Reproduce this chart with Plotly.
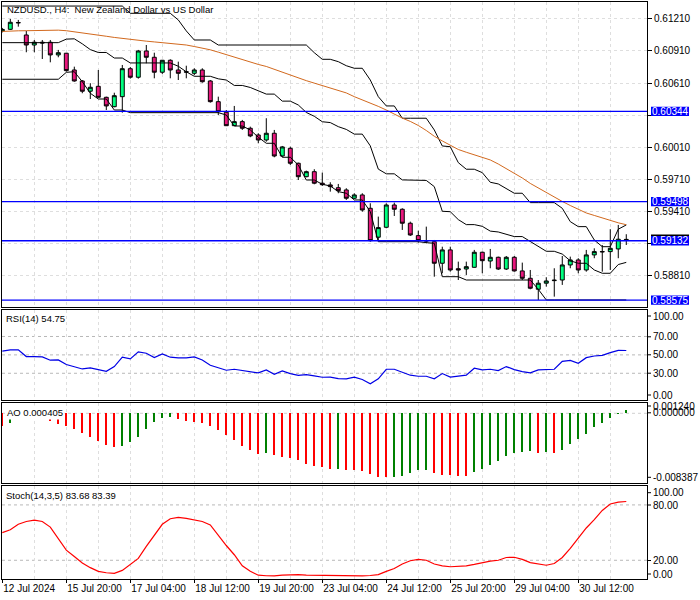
import plotly.graph_objects as go

# ---------------- data ----------------
bar_index = list(range(79))
date_tick_bars = [0, 8, 16, 24, 32, 40, 48, 56, 64, 72]
date_tick_labels = ["12 Jul 2024", "15 Jul 20:00", "17 Jul 04:00", "18 Jul 12:00", "19 Jul 20:00",
                    "23 Jul 04:00", "24 Jul 12:00", "25 Jul 20:00", "29 Jul 04:00", "30 Jul 12:00"]
price_ticks = [0.61210, 0.60910, 0.60610, 0.60310, 0.60010, 0.59710, 0.59410, 0.59110, 0.58810]
level_prices = [0.60344, 0.59498, 0.59132, 0.58575]
bid_price = 0.59144

open_ = [0.61098, 0.61113, 0.61177, 0.61060, 0.60966, 0.60992, 0.60992, 0.60873, 0.60889, 0.60732,
         0.60629, 0.60533, 0.60579, 0.60476, 0.60388, 0.60482, 0.60744, 0.60664, 0.60910, 0.60851,
         0.60711, 0.60823, 0.60732, 0.60716, 0.60701, 0.60732, 0.60629, 0.60435, 0.60336, 0.60210,
         0.60248, 0.60186, 0.60123, 0.60076, 0.60139, 0.59926, 0.59998, 0.59858, 0.59732, 0.59779,
         0.59671, 0.59655, 0.59629, 0.59608, 0.59530, 0.59561, 0.59436, 0.59165, 0.59258, 0.59467,
         0.59427, 0.59296, 0.59180, 0.59133, 0.59123, 0.58921, 0.59046, 0.58870, 0.58867, 0.58883,
         0.59024, 0.58942, 0.58977, 0.58867, 0.58977, 0.58849, 0.58780, 0.58677, 0.58734, 0.58758,
         0.58764, 0.58905, 0.58952, 0.58858, 0.58999, 0.59031, 0.59030, 0.59055, 0.59141]
high = [0.61126, 0.61210, 0.61201, 0.61098, 0.61013, 0.61013, 0.61013, 0.60920, 0.60891, 0.60763,
        0.60638, 0.60608, 0.60732, 0.60482, 0.60519, 0.60779, 0.60760, 0.60920, 0.60966, 0.60894,
        0.60826, 0.60832, 0.60810, 0.60772, 0.60748, 0.60748, 0.60638, 0.60482, 0.60357, 0.60395,
        0.60264, 0.60201, 0.60139, 0.60280, 0.60170, 0.60020, 0.60013, 0.59864, 0.59789, 0.59802,
        0.59770, 0.59680, 0.59664, 0.59624, 0.59577, 0.59577, 0.59483, 0.59358, 0.59483, 0.59489,
        0.59436, 0.59311, 0.59226, 0.59264, 0.59139, 0.59076, 0.59076, 0.58936, 0.58936, 0.59046,
        0.59030, 0.59055, 0.58983, 0.58989, 0.58989, 0.58927, 0.58858, 0.58764, 0.58790, 0.58874,
        0.58989, 0.58983, 0.58968, 0.59046, 0.59061, 0.59092, 0.59240, 0.59280, 0.59193]
low = [0.61084, 0.61107, 0.61138, 0.60898, 0.60898, 0.60835, 0.60804, 0.60851, 0.60716, 0.60622,
       0.60514, 0.60460, 0.60473, 0.60357, 0.60383, 0.60332, 0.60651, 0.60651, 0.60795, 0.60654,
       0.60695, 0.60654, 0.60638, 0.60654, 0.60685, 0.60613, 0.60426, 0.60310, 0.60207, 0.60207,
       0.60170, 0.60102, 0.60045, 0.60060, 0.59914, 0.59917, 0.59842, 0.59701, 0.59727, 0.59661,
       0.59645, 0.59592, 0.59577, 0.59514, 0.59523, 0.59404, 0.59123, 0.59133, 0.59249, 0.59364,
       0.59233, 0.59177, 0.59114, 0.59108, 0.58795, 0.58827, 0.58842, 0.58764, 0.58811, 0.58880,
       0.58827, 0.58874, 0.58858, 0.58858, 0.58842, 0.58764, 0.58677, 0.58577, 0.58702, 0.58608,
       0.58718, 0.58874, 0.58827, 0.58842, 0.58968, 0.58842, 0.58858, 0.58968, 0.59092]
close = [0.61112, 0.61179, 0.61174, 0.60966, 0.60992, 0.60985, 0.60873, 0.60894, 0.60726, 0.60629,
         0.60533, 0.60570, 0.60476, 0.60395, 0.60491, 0.60744, 0.60664, 0.60910, 0.60851, 0.60711,
         0.60823, 0.60732, 0.60701, 0.60712, 0.60732, 0.60622, 0.60435, 0.60341, 0.60210, 0.60248,
         0.60186, 0.60114, 0.60076, 0.60139, 0.59926, 0.60011, 0.59858, 0.59732, 0.59779, 0.59671,
         0.59657, 0.59639, 0.59601, 0.59530, 0.59561, 0.59420, 0.59133, 0.59255, 0.59467, 0.59427,
         0.59296, 0.59186, 0.59133, 0.59130, 0.58921, 0.59046, 0.58858, 0.58858, 0.58889, 0.59024,
         0.58945, 0.58977, 0.58867, 0.58977, 0.58849, 0.58780, 0.58687, 0.58734, 0.58755, 0.58762,
         0.58905, 0.58952, 0.58858, 0.58999, 0.59030, 0.59028, 0.59061, 0.59146, 0.59144]

channel_upper = [0.61331, 0.61331, 0.61331, 0.61331, 0.61331, 0.61331, 0.61331, 0.61331, 0.61331, 0.61331,
                 0.61331, 0.61331, 0.61331, 0.61331, 0.61331, 0.61331, 0.61263, 0.61263, 0.61263, 0.61263,
                 0.61263, 0.61263, 0.61201, 0.61098, 0.61013, 0.61013, 0.61013, 0.60966, 0.60966, 0.60966,
                 0.60966, 0.60966, 0.60966, 0.60966, 0.60966, 0.60966, 0.60966, 0.60966, 0.60966, 0.60894,
                 0.60832, 0.60832, 0.60810, 0.60772, 0.60748, 0.60748, 0.60638, 0.60482, 0.60395, 0.60395,
                 0.60280, 0.60280, 0.60280, 0.60280, 0.60170, 0.60020, 0.60013, 0.59864, 0.59802, 0.59802,
                 0.59770, 0.59680, 0.59664, 0.59624, 0.59577, 0.59577, 0.59489, 0.59489, 0.59489, 0.59489,
                 0.59436, 0.59311, 0.59264, 0.59264, 0.59139, 0.59076, 0.59076, 0.59240, 0.59280]
channel_middle = [0.60988, 0.60988, 0.60988, 0.60988, 0.60988, 0.60988, 0.60988, 0.60988, 0.61021, 0.61024,
                  0.60977, 0.60923, 0.60896, 0.60896, 0.60844, 0.60844, 0.60798, 0.60798, 0.60798, 0.60798,
                  0.60798, 0.60798, 0.60767, 0.60715, 0.60673, 0.60673, 0.60673, 0.60649, 0.60638, 0.60587,
                  0.60587, 0.60568, 0.60534, 0.60506, 0.60506, 0.60440, 0.60440, 0.60404, 0.60334, 0.60298,
                  0.60247, 0.60239, 0.60201, 0.60175, 0.60131, 0.60131, 0.60021, 0.59803, 0.59759, 0.59759,
                  0.59702, 0.59702, 0.59702, 0.59697, 0.59639, 0.59408, 0.59404, 0.59330, 0.59283, 0.59283,
                  0.59267, 0.59222, 0.59214, 0.59194, 0.59171, 0.59171, 0.59127, 0.59083, 0.59033, 0.59033,
                  0.59007, 0.58944, 0.58921, 0.58921, 0.58858, 0.58827, 0.58827, 0.58909, 0.58929]
channel_lower = [0.60645, 0.60645, 0.60645, 0.60645, 0.60645, 0.60645, 0.60645, 0.60645, 0.60710, 0.60716,
                 0.60622, 0.60514, 0.60460, 0.60460, 0.60357, 0.60357, 0.60332, 0.60332, 0.60332, 0.60332,
                 0.60332, 0.60332, 0.60332, 0.60332, 0.60332, 0.60332, 0.60332, 0.60332, 0.60310, 0.60207,
                 0.60207, 0.60170, 0.60102, 0.60045, 0.60045, 0.59914, 0.59914, 0.59842, 0.59701, 0.59701,
                 0.59661, 0.59645, 0.59592, 0.59577, 0.59514, 0.59514, 0.59404, 0.59123, 0.59123, 0.59123,
                 0.59123, 0.59123, 0.59123, 0.59114, 0.59108, 0.58795, 0.58795, 0.58795, 0.58764, 0.58764,
                 0.58764, 0.58764, 0.58764, 0.58764, 0.58764, 0.58764, 0.58764, 0.58677, 0.58577, 0.58577,
                 0.58577, 0.58577, 0.58577, 0.58577, 0.58577, 0.58577, 0.58577, 0.58577, 0.58577]
moving_average = [0.61093, 0.61098, 0.61099, 0.61100, 0.61103, 0.61105, 0.61107, 0.61105, 0.61100, 0.61091,
                  0.61081, 0.61069, 0.61058, 0.61048, 0.61037, 0.61027, 0.61020, 0.61011, 0.61002, 0.60995,
                  0.60989, 0.60981, 0.60975, 0.60966, 0.60952, 0.60938, 0.60921, 0.60899, 0.60875, 0.60850,
                  0.60826, 0.60804, 0.60784, 0.60765, 0.60737, 0.60710, 0.60682, 0.60654, 0.60632, 0.60609,
                  0.60587, 0.60565, 0.60545, 0.60517, 0.60482, 0.60453, 0.60424, 0.60391, 0.60357, 0.60315,
                  0.60281, 0.60250, 0.60212, 0.60165, 0.60111, 0.60067, 0.60027, 0.59987, 0.59961, 0.59936,
                  0.59912, 0.59889, 0.59851, 0.59809, 0.59767, 0.59720, 0.59669, 0.59625, 0.59582, 0.59540,
                  0.59500, 0.59462, 0.59427, 0.59392, 0.59369, 0.59345, 0.59324, 0.59300, 0.59282]

rsi = [54.0, 55.5, 55.5, 48.2, 48.2, 47.8, 44.2, 44.5, 39.5, 37.3,
       34.7, 35.8, 34.4, 32.2, 37.3, 47.5, 45.6, 53.3, 51.8, 47.1,
       51.1, 47.5, 46.7, 46.7, 47.8, 44.5, 38.7, 36.2, 33.3, 34.4,
       32.9, 32.2, 30.4, 33.6, 28.9, 32.5, 29.6, 27.8, 28.5, 27.1,
       25.7, 25.8, 24.3, 24.0, 25.8, 23.2, 18.6, 24.0, 34.4, 34.4,
       31.5, 27.9, 26.8, 26.8, 24.0, 29.7, 25.8, 26.8, 27.9, 35.5,
       33.7, 34.4, 32.9, 37.3, 34.0, 31.9, 30.4, 33.7, 34.4, 34.4,
       43.0, 44.1, 40.9, 47.0, 48.8, 49.5, 52.4, 54.9, 54.75]

ao = [-0.00160, -0.00122, -0.00057, -0.00030, -0.00020, -0.00030, -0.00096, -0.00140, -0.00162, -0.00205,
      -0.00253, -0.00306, -0.00358, -0.00411, -0.00437, -0.00424, -0.00371, -0.00306, -0.00201, -0.00109,
      -0.00057, -0.00050, -0.00070, -0.00096, -0.00109, -0.00127, -0.00162, -0.00214, -0.00280, -0.00345,
      -0.00424, -0.00476, -0.00529, -0.00526, -0.00546, -0.00568, -0.00585, -0.00612, -0.00660, -0.00686,
      -0.00701, -0.00730, -0.00727, -0.00738, -0.00743, -0.00751, -0.00791, -0.00830, -0.00839, -0.00830,
      -0.00817, -0.00778, -0.00743, -0.00740, -0.00778, -0.00804, -0.00805, -0.00817, -0.00818, -0.00764,
      -0.00725, -0.00673, -0.00620, -0.00555, -0.00524, -0.00502, -0.00500, -0.00515, -0.00502, -0.00515,
      -0.00476, -0.00406, -0.00332, -0.00266, -0.00175, -0.00122, -0.00066, -0.00003, 0.000405]

stoch = [50.0, 53.0, 59.0, 62.0, 63.5, 62.0, 56.0, 44.0, 31.0, 24.0,
         17.0, 12.0, 8.0, 6.5, 5.9, 9.0, 15.0, 22.0, 35.0, 47.0,
         59.0, 65.0, 66.5, 65.5, 63.5, 62.0, 58.3, 47.0, 36.0, 26.0,
         14.0, 8.0, 3.8, 3.2, 3.0, 4.0, 4.6, 4.5, 4.0, 3.8,
         3.5, 3.3, 3.1, 3.1, 3.1, 3.1, 3.5, 4.5, 8.0, 11.0,
         16.0, 19.5, 21.0, 20.0, 16.0, 14.0, 13.0, 13.3, 14.0, 15.5,
         17.5, 19.0, 20.0, 23.0, 23.3, 21.0, 17.5, 16.0, 14.6, 16.5,
         23.0, 33.0, 44.0, 55.0, 64.0, 74.0, 81.0, 83.0, 83.68]

rsi_labels = [(100, "100.00"), (70, "70.00"), (50, "50.00"), (30, "30.00"), (0, "0.00")]
rsi_levels = [30, 50, 70]
ao_labels = [(0.001240, "0.001240"), (0.0, "0.000000"), (-0.008387, "-0.008387")]
stoch_labels = [(100, "100.00"), (80, "80.00"), (20, "20.00"), (0, "0.00")]
stoch_levels = [20, 80]

# ---------------- geometry / style ----------------
W, H = 700, 600
ML, MR, MT, MB = 2, 53, 2, 21
PW = W - ML - MR
PH = H - MT - MB
def py(px):
    return (H - MB - px) / PH
def pxx(px):
    return (px - ML) / PW

FONT = "Liberation Sans, Arial, sans-serif"
BULL = "#00FF7F"
BEAR = "#E8177D"
GRID = "#DEDEDE"
LEVEL = "#B8B8B8"
PRICE_PER_PX = (0.61369 - 0.58511) / 305.0

fig = go.Figure()

fig.add_trace(go.Candlestick(
    x=bar_index, open=open_, high=high, low=low, close=close,
    increasing=dict(fillcolor=BULL, line=dict(color="black", width=1)),
    decreasing=dict(fillcolor=BEAR, line=dict(color="black", width=1)),
    whiskerwidth=0, xaxis="x", yaxis="y", showlegend=False, hoverinfo="skip"))
for series in (channel_upper, channel_middle, channel_lower):
    fig.add_trace(go.Scatter(x=bar_index, y=series, mode="lines", line=dict(color="black", width=1),
                             xaxis="x", yaxis="y", showlegend=False, hoverinfo="skip"))
fig.add_trace(go.Scatter(x=bar_index, y=moving_average, mode="lines", line=dict(color="#D2691E", width=1),
                         xaxis="x", yaxis="y", showlegend=False, hoverinfo="skip"))

fig.add_trace(go.Scatter(x=bar_index, y=rsi, mode="lines", line=dict(color="#0000E6", width=1.2),
                         xaxis="x2", yaxis="y2", showlegend=False, hoverinfo="skip"))

ao_colors = ["#008000" if i > 0 and ao[i] > ao[i - 1] else "#FF0000" for i in range(len(ao))]
fig.add_trace(go.Bar(x=bar_index, y=ao, marker=dict(color=ao_colors, line=dict(width=0)), width=0.24,
                     xaxis="x3", yaxis="y3", showlegend=False, hoverinfo="skip"))

fig.add_trace(go.Scatter(x=bar_index, y=stoch, mode="lines", line=dict(color="#FF0000", width=1.2),
                         xaxis="x4", yaxis="y4", showlegend=False, hoverinfo="skip"))

xr = [-0.0375, 80.59]
minor_vals = list(range(4, 81, 8))
xcommon = dict(range=xr, showline=True, mirror=True, linecolor="black", linewidth=1,
               showgrid=True, gridcolor=GRID, griddash="3px,3px", gridwidth=1,
               tickmode="array", tickvals=date_tick_bars, zeroline=False, fixedrange=True,
               automargin=False,
               minor=dict(tickmode="array", tickvals=minor_vals, showgrid=True, gridcolor=GRID,
                          griddash="3px,3px", gridwidth=1, ticks=""))
ycommon = dict(side="right", showline=True, mirror=True, linecolor="black", linewidth=1,
               zeroline=False, fixedrange=True, automargin=False)

layout = dict(
    width=W, height=H, margin=dict(l=ML, r=MR, t=MT, b=MB, pad=0), autosize=False,
    paper_bgcolor="white", plot_bgcolor="white",
    font=dict(family=FONT, size=10, color="black"),
    showlegend=False, bargap=0,
    xaxis=dict(**xcommon, anchor="y", domain=[0, 1], showticklabels=False, ticks="",
               rangeslider=dict(visible=False)),
    xaxis2=dict(**xcommon, anchor="y2", matches="x", showticklabels=False, ticks=""),
    xaxis3=dict(**xcommon, anchor="y3", matches="x", showticklabels=False, ticks=""),
    xaxis4=dict(**xcommon, anchor="y4", matches="x", ticktext=date_tick_labels, showticklabels=True,
                ticks="outside", ticklen=3, tickcolor="black", ticklabelposition="outside right"),
    yaxis=dict(**ycommon, domain=[py(307), 1.0], range=[0.58511, 0.61369],
               tickmode="array", tickvals=price_ticks,
               ticktext=["%.5f" % v if v not in (0.60310, 0.59110) else "" for v in price_ticks],
               ticks="outside", ticklen=4, tickcolor="black",
               showgrid=True, gridcolor=GRID, griddash="3px,3px"),
    yaxis2=dict(**ycommon, domain=[py(399.5), py(310)], range=[1.5, 98.8], showticklabels=False,
                ticks="", showgrid=False),
    yaxis3=dict(**ycommon, domain=[py(483.3), py(402.7)], range=[-0.009173, 0.001389],
                showticklabels=False, ticks="", showgrid=False),
    yaxis4=dict(**ycommon, domain=[0, py(486)], range=[-0.3, 100.5], showticklabels=False,
                ticks="", showgrid=False),
)
fig.update_layout(**layout)

shapes = []
annotations = []
for lv in level_prices:
    shapes.append(dict(type="line", xref="x domain", x0=0, x1=1, yref="y", y0=lv, y1=lv,
                       line=dict(color="#0000FF", width=1.3), layer="above"))
for lv in rsi_levels:
    shapes.append(dict(type="line", xref="x2 domain", x0=0, x1=1, yref="y2", y0=lv, y1=lv,
                       line=dict(color=LEVEL, width=1, dash="3px,3px"), layer="below"))
shapes.append(dict(type="line", xref="x3 domain", x0=0, x1=1, yref="y3", y0=0, y1=0,
                   line=dict(color="#D0D0D0", width=1, dash="3px,3px"), layer="below"))
for lv in stoch_levels:
    shapes.append(dict(type="line", xref="x4 domain", x0=0, x1=1, yref="y4", y0=lv, y1=lv,
                       line=dict(color=LEVEL, width=1, dash="3px,3px"), layer="below"))

def side_label(text, ypx):
    annotations.append(dict(text=text, xref="paper", x=1, xanchor="left", xshift=4,
                            yref="paper", y=py(ypx), yanchor="middle", showarrow=False,
                            font=dict(size=10, color="black")))
    shapes.append(dict(type="line", xref="paper", x0=1, x1=1 + 4 / PW,
                       yref="paper", y0=py(ypx), y1=py(ypx), line=dict(color="black", width=1)))

rsi_px = {100: 316, 70: 336.8, 50: 354.8, 30: 373.2, 0: 395}
for v, t in rsi_labels:
    side_label(t, rsi_px[v])
ao_px = {0.001240: 406, 0.0: 412.8, -0.008387: 477.3}
for v, t in ao_labels:
    side_label(t, ao_px[v])
st_px = {100: 492.7, 80: 505, 20: 560.5, 0: 574}
for v, t in stoch_labels:
    side_label(t, st_px[v])

# current bid box (mostly hidden behind the 0.59132 box)
shapes.append(dict(type="rect", xref="paper", x0=pxx(651), x1=pxx(689), yref="y",
                   y0=bid_price - 5 * PRICE_PER_PX, y1=bid_price + 5 * PRICE_PER_PX,
                   fillcolor="black", line=dict(width=0), layer="above"))
# horizontal-line price boxes
for lv in level_prices:
    shapes.append(dict(type="rect", xref="paper", x0=pxx(651), x1=pxx(689), yref="y",
                       y0=lv - 4.7 * PRICE_PER_PX, y1=lv + 4.7 * PRICE_PER_PX,
                       fillcolor="#0000FF", line=dict(width=0), layer="above"))
    annotations.append(dict(text="%.5f" % lv, xref="paper", x=pxx(670), xanchor="center",
                            yref="y", y=lv, yanchor="middle", showarrow=False,
                            font=dict(size=10, color="white")))

# panel captions
CAP = dict(size=9.5, color="black")
annotations.append(dict(text="NZDUSD., H4:\u00a0 New Zealand Dollar vs US Dollar", xref="paper", x=0,
                        xanchor="left", xshift=3, yref="paper", y=py(9.3), yanchor="middle",
                        showarrow=False, font=CAP))
annotations.append(dict(text="RSI(14) %.2f" % rsi[-1], xref="paper", x=0, xanchor="left", xshift=2,
                        yref="paper", y=py(318.3), yanchor="middle", showarrow=False, font=CAP))
annotations.append(dict(text="AO %.6f" % ao[-1], xref="paper", x=0, xanchor="left", xshift=3,
                        yref="paper", y=py(412.3), yanchor="middle", showarrow=False,
                        bgcolor="white", borderpad=1, font=CAP))
annotations.append(dict(text="Stoch(14,3,5) 83.68 83.39", xref="paper", x=0, xanchor="left", xshift=2,
                        yref="paper", y=py(495.7), yanchor="middle", showarrow=False, font=CAP))

fig.update_layout(shapes=shapes, annotations=annotations)
fig.write_html("out.html", config={"displayModeBar": False, "staticPlot": True},
               post_script="document.body.style.margin='0px';document.body.style.overflow='hidden';")
